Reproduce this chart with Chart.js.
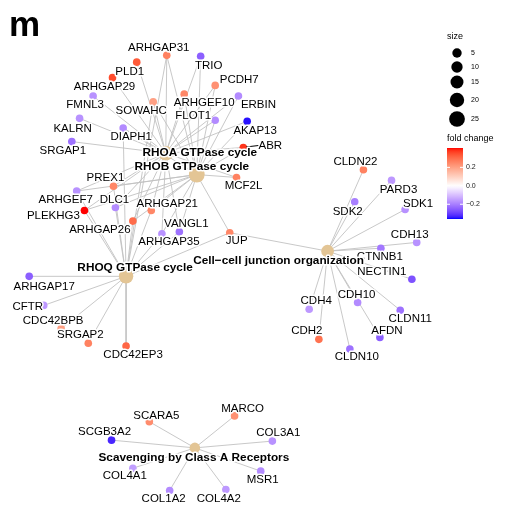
<!DOCTYPE html>
<html>
<head>
<meta charset="utf-8">
<script src="https://cdn.jsdelivr.net/npm/chart.js@4.4.1/dist/chart.umd.min.js"></script>
<style>
  html, body { margin: 0; padding: 0; background: #fff; }
  #wrap { width: 505px; height: 511px; }
</style>
</head>
<body>
<div id="wrap"><canvas id="net"></canvas></div>
<script>
// gene-concept network (cnetplot), layout coordinates

const categories = ['RHOA GTPase cycle', 'RHOB GTPase cycle', 'RHOQ GTPase cycle',
  'Cell\u2212cell junction organization', 'Scavenging by Class A Receptors'];
const categoryX = [163, 195, 122, 330, 193];
const categoryY = [150, 172, 277, 251, 454];
const categorySize = [21, 25, 20, 14, 8];

const genes = ['ARHGAP31', 'TRIO', 'PLD1', 'PCDH7', 'ARHGAP29', 'ARHGEF10', 'ERBIN', 'FMNL3',
  'SOWAHC', 'FLOT1', 'KALRN', 'DIAPH1', 'AKAP13', 'SRGAP1', 'ABR', 'MCF2L',
  'PREX1', 'ARHGEF7', 'DLC1', 'PLEKHG3', 'ARHGAP21', 'ARHGAP26', 'VANGL1', 'ARHGAP35',
  'JUP', 'ARHGAP17', 'CFTR', 'CDC42BPB', 'SRGAP2', 'CDC42EP3',
  'CLDN22', 'PARD3', 'SDK2', 'SDK1', 'CDH13', 'CTNNB1', 'NECTIN1', 'CDH10', 'CDH4',
  'CLDN11', 'AFDN', 'CDH2', 'CLDN10',
  'SCARA5', 'MARCO', 'SCGB3A2', 'COL3A1', 'COL4A1', 'MSR1', 'COL1A2', 'COL4A2'];
const geneX = [164, 199, 133, 214, 108, 182, 238, 88,
  150, 214, 74, 119, 247, 66, 243, 236,
  109, 71, 111, 79, 148, 129, 177, 159,
  229, 22, 37, 55, 83, 122,
  367, 396, 358, 410, 422, 385, 417, 361, 311,
  405, 384, 321, 353,
  146, 234, 107, 273, 129, 261, 167, 225];
const geneY = [49, 50, 56, 80, 72, 89, 91, 91,
  97, 116, 114, 124, 117, 138, 144, 175,
  184, 189, 206, 209, 209, 220, 231, 233,
  232, 277, 307, 331, 346, 349,
  167, 178, 200, 208, 242, 248, 280, 304, 311,
  312, 340, 342, 352,
  427, 421, 446, 447, 475, 478, 498, 497];
const foldChange = [0.26, -0.25, 0.33, 0.23, 0.35, 0.25, -0.18, -0.17,
  0.2, -0.18, -0.17, -0.18, -0.35, -0.22, 0.38, 0.26,
  0.25, -0.17, -0.18, 0.41, 0.25, 0.3, -0.22, -0.17,
  0.25, -0.25, -0.16, 0.2, 0.26, 0.31,
  0.26, -0.16, -0.2, -0.17, -0.17, -0.21, -0.27, -0.18, -0.16,
  -0.22, -0.25, 0.29, -0.22,
  0.24, 0.23, -0.33, -0.17, -0.15, -0.18, -0.18, -0.16];

// gene members of each category
const rhoTop = ['ARHGAP31', 'TRIO', 'PLD1', 'PCDH7', 'ARHGAP29', 'ARHGEF10', 'ERBIN', 'FMNL3',
  'SOWAHC', 'FLOT1', 'KALRN', 'DIAPH1', 'AKAP13', 'SRGAP1', 'ABR', 'MCF2L'];
const rhoMid = ['PREX1', 'ARHGEF7', 'DLC1', 'PLEKHG3', 'ARHGAP21', 'ARHGAP26', 'VANGL1', 'ARHGAP35'];
const members = [
  rhoTop.concat(rhoMid),
  ['ARHGAP31', 'TRIO', 'PCDH7', 'ARHGEF10', 'ERBIN', 'SOWAHC', 'FLOT1', 'AKAP13', 'ABR', 'MCF2L', 'DIAPH1']
    .concat(rhoMid, ['JUP']),
  rhoMid.concat(['JUP', 'ARHGAP17', 'CFTR', 'CDC42BPB', 'SRGAP2', 'CDC42EP3', 'SOWAHC', 'ARHGAP31', 'DIAPH1']),
  ['JUP', 'CLDN22', 'PARD3', 'SDK2', 'SDK1', 'CDH13', 'CTNNB1', 'NECTIN1', 'CDH10', 'CDH4', 'CLDN11', 'AFDN', 'CDH2', 'CLDN10'],
  ['SCARA5', 'MARCO', 'SCGB3A2', 'COL3A1', 'COL4A1', 'MSR1', 'COL1A2', 'COL4A2']
];

const sizeBreaks = [5, 10, 15, 20, 25];
const fcTicks = [0.2, 0.0, -0.2];
const fcMin = -0.36, fcMax = 0.41;

// label offsets (px) from each node, like the repelled labels in the picture
const geneLabelDx = [-8, 8, -7, 24, -8, 20, 20, -8, -12, -22, -7, 8, 8, -9, 27, 7,
  -8, -11, -1, -31, 16, -33, 7, 7, 7, 15, -16, -8, -8, 7,
  -8, 7, -7, 13, -7, -1, -30, -1, 7, 10, 7, -12, 7,
  7, 8, -7, 6, -8, 2, -6, -7];
const geneLabelDy = [-8, 9, 10, -6, 9, 9, 9, 9, 9, -4, 10, 9, 10, 9, -2, 8,
  -8, 9, -8, 5, -7, 9, -8, 8, 8, 10, 1, -8, -8, 9,
  -8, 9, 10, -6, -8, 9, -7, -8, -8, 9, -7, -9, 8,
  -6, -7, -8, -8, 8, 9, 8, 9];
const catLabelDx = [34, -5, 9, -49, -1];
const catLabelDy = [-1, -8, -9, 10, 10];

// ---- colour: blue - white - red through Lab
function toLab(hex) {
  let c = [1, 3, 5].map(i => parseInt(hex.substr(i, 2), 16) / 255)
    .map(v => v <= 0.04045 ? v / 12.92 : Math.pow((v + 0.055) / 1.055, 2.4));
  let X = (c[0] * 0.4124 + c[1] * 0.3576 + c[2] * 0.1805) / 0.95047;
  let Y = (c[0] * 0.2126 + c[1] * 0.7152 + c[2] * 0.0722);
  let Z = (c[0] * 0.0193 + c[1] * 0.1192 + c[2] * 0.9505) / 1.08883;
  let f = t => t > 0.008856 ? Math.cbrt(t) : 7.787 * t + 16 / 116;
  return [116 * f(Y) - 16, 500 * (f(X) - f(Y)), 200 * (f(Y) - f(Z))];
}
function fromLab(lab) {
  let fy = (lab[0] + 16) / 116, fx = fy + lab[1] / 500, fz = fy - lab[2] / 200;
  let inv = t => t * t * t > 0.008856 ? t * t * t : (t - 16 / 116) / 7.787;
  let X = inv(fx) * 0.95047, Y = inv(fy), Z = inv(fz) * 1.08883;
  let r = X * 3.2406 - Y * 1.5372 - Z * 0.4986;
  let g = -X * 0.9689 + Y * 1.8758 + Z * 0.0415;
  let b = X * 0.0557 - Y * 0.2040 + Z * 1.0570;
  let out = [r, g, b].map(v => v <= 0.0031308 ? 12.92 * v : 1.055 * Math.pow(v, 1 / 2.4) - 0.055)
    .map(v => Math.round(Math.max(0, Math.min(1, v)) * 255));
  return 'rgb(' + out.join(',') + ')';
}
const labWhite = toLab('#FFFFFF'), labRed = toLab('#FF0000'), labBlue = toLab('#0000FF');
function fcColor(v) {
  let t = v >= 0 ? v / fcMax : v / Math.abs(fcMin);
  t = Math.max(-1, Math.min(1, t));
  let end = t >= 0 ? labRed : labBlue;
  let a = Math.abs(t);
  return fromLab(labWhite.map((w, i) => w + (end[i] - w) * a));
}
function sizeRadius(s) { return Math.sqrt(12 + 2 * s); }

// ---- datasets
const geneIndex = {};
genes.forEach((g, i) => geneIndex[g] = i);

let edgeSets = members.map((list, c) => {
  let pts = [];
  list.forEach(g => {
    let i = geneIndex[g];
    pts.push({x: categoryX[c], y: categoryY[c]});
    pts.push({x: geneX[i], y: geneY[i]});
    pts.push({x: null, y: null});
  });
  return {
    type: 'scatter', data: pts, showLine: true, spanGaps: false,
    borderColor: '#c2c2c2', borderWidth: 0.9, pointRadius: 0, order: 3
  };
});

const geneSet = {
  data: genes.map((g, i) => ({x: geneX[i], y: geneY[i]})),
  pointRadius: 3.8,
  pointBackgroundColor: foldChange.map(fcColor),
  pointBorderWidth: 0,
  order: 2
};
const catSet = {
  data: categories.map((c, i) => ({x: categoryX[i], y: categoryY[i]})),
  pointRadius: categorySize.map(sizeRadius),
  pointBackgroundColor: '#E3C595',
  pointBorderWidth: 0,
  order: 1
};

function haloText(ctx, text, x, y) {
  ctx.lineJoin = 'round';
  ctx.lineWidth = 3;
  ctx.strokeStyle = '#fff';
  ctx.strokeText(text, x, y);
  ctx.fillStyle = '#000';
  ctx.fillText(text, x, y);
}

const labelPlugin = {
  id: 'netLabels',
  afterDatasetsDraw(chart) {
    const ctx = chart.ctx;
    const xs = chart.scales.x, ys = chart.scales.y;
    ctx.save();
    ctx.textAlign = 'center';
    ctx.textBaseline = 'middle';
    ctx.font = '11.5px "Liberation Sans", Arial, sans-serif';
    genes.forEach((g, i) => {
      let px = xs.getPixelForValue(geneX[i]), py = ys.getPixelForValue(geneY[i]);
      let lx = px + geneLabelDx[i], ly = py + geneLabelDy[i];
      if (g === 'ABR') {
        ctx.strokeStyle = '#000';
        ctx.lineWidth = 1;
        ctx.beginPath();
        ctx.moveTo(px + 3, py - 0.5);
        ctx.lineTo(lx - 11, ly);
        ctx.stroke();
      }
      haloText(ctx, g, lx, ly);
    });
    ctx.font = 'bold 11.8px "Liberation Sans", Arial, sans-serif';
    categories.forEach((c, i) => {
      let px = xs.getPixelForValue(categoryX[i]), py = ys.getPixelForValue(categoryY[i]);
      haloText(ctx, c, px + catLabelDx[i], py + catLabelDy[i]);
    });

    // panel letter
    ctx.textAlign = 'left';
    ctx.textBaseline = 'alphabetic';
    ctx.fillStyle = '#000';
    ctx.font = 'bold 35px "Liberation Sans", Arial, sans-serif';
    ctx.fillText('m', 9, 36);

    // size legend
    ctx.font = '9px "Liberation Sans", Arial, sans-serif';
    ctx.textBaseline = 'middle';
    ctx.fillText('size', 447, 37);
    ctx.font = '7px "Liberation Sans", Arial, sans-serif';
    const legY = [53, 67, 82, 100, 119];
    sizeBreaks.forEach((s, k) => {
      ctx.beginPath();
      ctx.arc(457, legY[k], sizeRadius(s), 0, Math.PI * 2);
      ctx.fill();
      ctx.fillText(String(s), 471, legY[k]);
    });

    // colour bar
    ctx.font = '9px "Liberation Sans", Arial, sans-serif';
    ctx.fillText('fold change', 447, 139);
    const top = 148, bot = 219, left = 447, w = 16;
    const grad = ctx.createLinearGradient(0, top, 0, bot);
    for (let k = 0; k <= 40; k++) {
      let v = fcMax - (fcMax - fcMin) * k / 40;
      grad.addColorStop(k / 40, fcColor(v));
    }
    ctx.fillStyle = grad;
    ctx.fillRect(left, top, w, bot - top);
    ctx.font = '7px "Liberation Sans", Arial, sans-serif';
    fcTicks.forEach(v => {
      let y = top + (fcMax - v) / (fcMax - fcMin) * (bot - top);
      ctx.strokeStyle = '#fff';
      ctx.lineWidth = 1;
      ctx.beginPath();
      ctx.moveTo(left, y); ctx.lineTo(left + 3, y);
      ctx.moveTo(left + w - 3, y); ctx.lineTo(left + w, y);
      ctx.stroke();
      ctx.fillStyle = '#222';
      ctx.fillText(v === 0 ? '0.0' : (v < 0 ? '\u2212' : '') + Math.abs(v).toFixed(1), left + w + 3, y);
    });
    ctx.restore();
  }
};

new Chart(document.getElementById('net'), {
  type: 'scatter',
  data: { datasets: [catSet, geneSet].concat(edgeSets) },
  options: {
    responsive: true,
    maintainAspectRatio: false,
    animation: false,
    events: [],
    layout: { padding: 0 },
    plugins: { legend: { display: false }, tooltip: { enabled: false } },
    scales: {
      x: { type: 'linear', min: 0, max: 505, display: false },
      y: { type: 'linear', min: 0, max: 511, reverse: true, display: false }
    }
  },
  plugins: [labelPlugin]
});
</script>
</body>
</html>
